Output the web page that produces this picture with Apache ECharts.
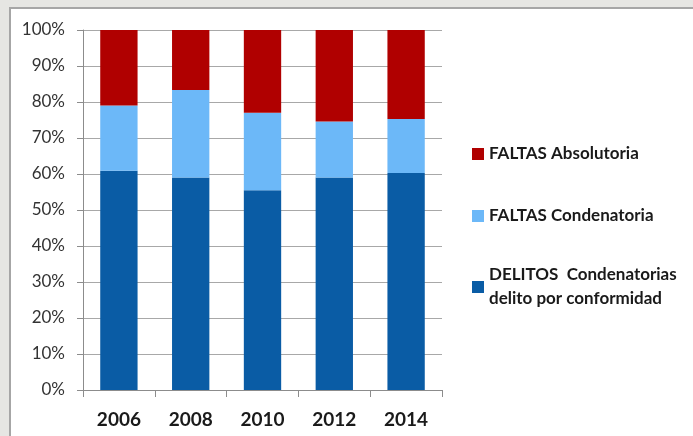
<!DOCTYPE html>
<html>
<head>
<meta charset="utf-8">
<script src="https://cdn.jsdelivr.net/npm/echarts@6/dist/echarts.min.js"></script>
<style>
  html, body { margin: 0; padding: 0; }
  body { width: 693px; height: 436px; background: #e6e6e3; overflow: hidden; position: relative; }
  .panel { position: absolute; left: 9px; top: 7px; width: 720px; height: 460px; background: #fff; border: 2px solid #a6a6a6; }
  #chart { position: absolute; left: 0; top: 0; width: 693px; height: 436px; }
</style>
</head>
<body>
<div class="panel"></div>
<div id="chart"></div>
<script>
  // años y porcentajes
  var years = ['2006', '2008', '2010', '2012', '2014'];
  var delitosCond = [60.9, 59.0, 55.5, 59.0, 60.3];
  var faltasCond = [18.1, 24.3, 21.5, 15.6, 15.0];
  var faltasAbs = [21.0, 16.7, 23.0, 25.4, 24.7];
  var yTicks = [0, 10, 20, 30, 40, 50, 60, 70, 80, 90, 100];

  var names = ['DELITOS  Condenatorias\ndelito por conformidad', 'FALTAS Condenatoria', 'FALTAS Absolutoria'];
  var colors = ['#0A5CA5', '#6CB8F8', '#B00000'];
  var font = 'Lato, "Open Sans", sans-serif';

  var chart = echarts.init(document.getElementById('chart'));

  function legendAt(name, top) {
    return {
      data: [name], left: 467, top: top, orient: 'vertical',
      itemWidth: 12, itemHeight: 12, itemGap: 0, selectedMode: false,
      icon: 'rect',
      textStyle: { fontFamily: font, fontSize: 17, fontWeight: 'bold', color: '#1a1a1a', lineHeight: 24 }
    };
  }

  chart.setOption({
    animation: false,
    legend: [legendAt(names[2], 137), legendAt(names[1], 199), legendAt(names[0], 258)],
    grid: { left: 83, top: 30, right: 251, bottom: 46 },
    xAxis: {
      type: 'category',
      data: years,
      axisLine: { lineStyle: { color: '#8c8c8c', width: 1 } },
      axisTick: { show: true, length: 7, lineStyle: { color: '#8c8c8c' } },
      axisLabel: { fontFamily: font, fontSize: 19, fontWeight: 'bold', color: '#1a1a1a', margin: 20 }
    },
    yAxis: {
      type: 'value', min: 0, max: 100, interval: 10,
      axisLine: { show: true, lineStyle: { color: '#8c8c8c' } },
      axisTick: { show: true, length: 6, lineStyle: { color: '#8c8c8c' } },
      splitLine: { lineStyle: { color: '#a8a8a8' } },
      axisLabel: {
        fontFamily: font, fontSize: 17, color: '#333', margin: 18,
        formatter: function (v) { return yTicks.indexOf(v) >= 0 ? v + '%' : ''; }
      }
    },
    series: [
      { name: names[0], type: 'bar', stack: 't', data: delitosCond, barWidth: '52%', itemStyle: { color: colors[0] } },
      { name: names[1], type: 'bar', stack: 't', data: faltasCond, itemStyle: { color: colors[1] } },
      { name: names[2], type: 'bar', stack: 't', data: faltasAbs, itemStyle: { color: colors[2] } }
    ]
  });
</script>
</body>
</html>
